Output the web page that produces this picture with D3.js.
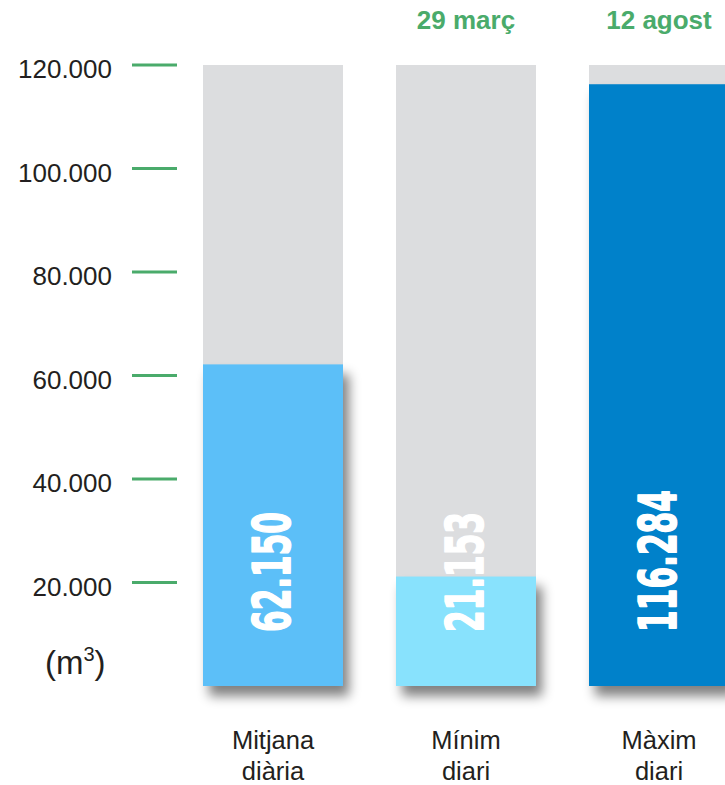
<!DOCTYPE html>
<html>
<head>
<meta charset="utf-8">
<script src="https://cdn.jsdelivr.net/npm/d3@7"></script>
<style>
  body { margin: 0; background: #fff; }
  text { font-family: "Liberation Sans", Arial, sans-serif; }
</style>
</head>
<body>
<svg width="725" height="785"></svg>
<script>
const categories = ["Mitjana diària", "Mínim diari", "Màxim diari"];
const categoryLines = [["Mitjana", "diària"], ["Mínim", "diari"], ["Màxim", "diari"]];
const values = [62150, 21153, 116284];
const valueLabels = ["62.150", "21.153", "116.284"];
const dates = ["", "29 març", "12 agost"];
const tickValues = [20000, 40000, 60000, 80000, 100000, 120000];
const maxValue = 120000;
const barColors = ["#5bbff8", "#88e2fd", "#0081ca"];

const svg = d3.select("svg");

const fmt = v => d3.format(",")(v).replace(/,/g, ".");

const x = d3.scaleBand()
    .domain(categories)
    .range([203, 729])
    .paddingInner(53 / 193)
    .paddingOuter(0);

const y = d3.scaleLinear()
    .domain([0, maxValue])
    .range([686, 65]);

// drop shadow for the coloured bars
const defs = svg.append("defs");
const f = defs.append("filter")
    .attr("id", "shadow")
    .attr("x", "-20%").attr("y", "-20%")
    .attr("width", "150%").attr("height", "150%");
f.append("feGaussianBlur").attr("in", "SourceAlpha").attr("stdDeviation", 6).attr("result", "blur");
f.append("feOffset").attr("in", "blur").attr("dx", 6).attr("dy", 10).attr("result", "off");
f.append("feComponentTransfer").attr("in", "off").attr("result", "soft")
  .append("feFuncA").attr("type", "linear").attr("slope", 0.5);
const merge = f.append("feMerge");
merge.append("feMergeNode").attr("in", "soft");
merge.append("feMergeNode").attr("in", "SourceGraphic");

// y axis: labels + short green ticks
const axis = svg.append("g");
axis.selectAll("line")
    .data(tickValues)
    .enter()
    .append("line")
    .attr("x1", 132)
    .attr("x2", 177)
    .attr("y1", d => y(d))
    .attr("y2", d => y(d))
    .attr("stroke", "#4aab6b")
    .attr("stroke-width", 2.8);

axis.selectAll("text")
    .data(tickValues)
    .enter()
    .append("text")
    .attr("x", 112)
    .attr("y", d => y(d))
    .attr("dy", "0.5em")
    .attr("text-anchor", "end")
    .style("font-size", "26px")
    .style("fill", "#231f20")
    .text(d => fmt(d));

// unit
const unit = svg.append("text")
    .attr("x", 45)
    .attr("y", 674)
    .style("font-size", "33px")
    .style("fill", "#231f20");
unit.append("tspan").text("(m");
unit.append("tspan").attr("dy", -13).style("font-size", "20px").text("3");
unit.append("tspan").attr("dy", 13).text(")");

// background (max) bars
svg.append("g").selectAll("rect")
    .data(categories)
    .enter()
    .append("rect")
    .attr("x", d => x(d))
    .attr("y", y(maxValue))
    .attr("width", x.bandwidth())
    .attr("height", y(0) - y(maxValue))
    .attr("fill", "#dcdddf");

// value bars
svg.append("g").selectAll("rect")
    .data(values)
    .enter()
    .append("rect")
    .attr("x", (d, i) => x(categories[i]))
    .attr("y", d => y(d))
    .attr("width", x.bandwidth())
    .attr("height", d => y(0) - y(d))
    .attr("fill", (d, i) => barColors[i])
    .attr("filter", "url(#shadow)");

// rotated value labels
svg.append("g").selectAll("text")
    .data(valueLabels)
    .enter()
    .append("text")
    .attr("transform", (d, i) => `translate(${x(categories[i]) + x.bandwidth() / 2 - 1},632) rotate(-90)`)
    .attr("dy", "0.36em")
    .attr("text-anchor", "start")
    .attr("textLength", d => d.replace(/\D/g, "").length * 22 + 10)
    .attr("lengthAdjust", "spacingAndGlyphs")
    .style("font-family", "'DejaVu Sans Condensed', 'DejaVu Sans', sans-serif")
    .style("font-stretch", "condensed")
    .style("font-weight", "bold")
    .style("font-size", "51px")
    .style("fill", "#fff")
    .style("stroke", "#fff")
    .style("stroke-width", 1.6)
    .style("stroke-linejoin", "round")
    .text(d => d);

// dates above bars
svg.append("g").selectAll("text")
    .data(dates)
    .enter()
    .append("text")
    .attr("x", (d, i) => x(categories[i]) + x.bandwidth() / 2)
    .attr("y", 29)
    .attr("text-anchor", "middle")
    .style("font-size", "26px")
    .style("font-weight", "bold")
    .style("fill", "#4aab6b")
    .text(d => d);

// category labels
const cat = svg.append("g").selectAll("text")
    .data(categoryLines)
    .enter()
    .append("text")
    .attr("text-anchor", "middle")
    .style("font-size", "25.5px")
    .style("fill", "#231f20");
cat.each(function (lines, i) {
  const cx = x(categories[i]) + x.bandwidth() / 2;
  d3.select(this).selectAll("tspan")
      .data(lines)
      .enter()
      .append("tspan")
      .attr("x", cx)
      .attr("y", (l, j) => 749 + j * 31)
      .text(l => l);
});
</script>
</body>
</html>
